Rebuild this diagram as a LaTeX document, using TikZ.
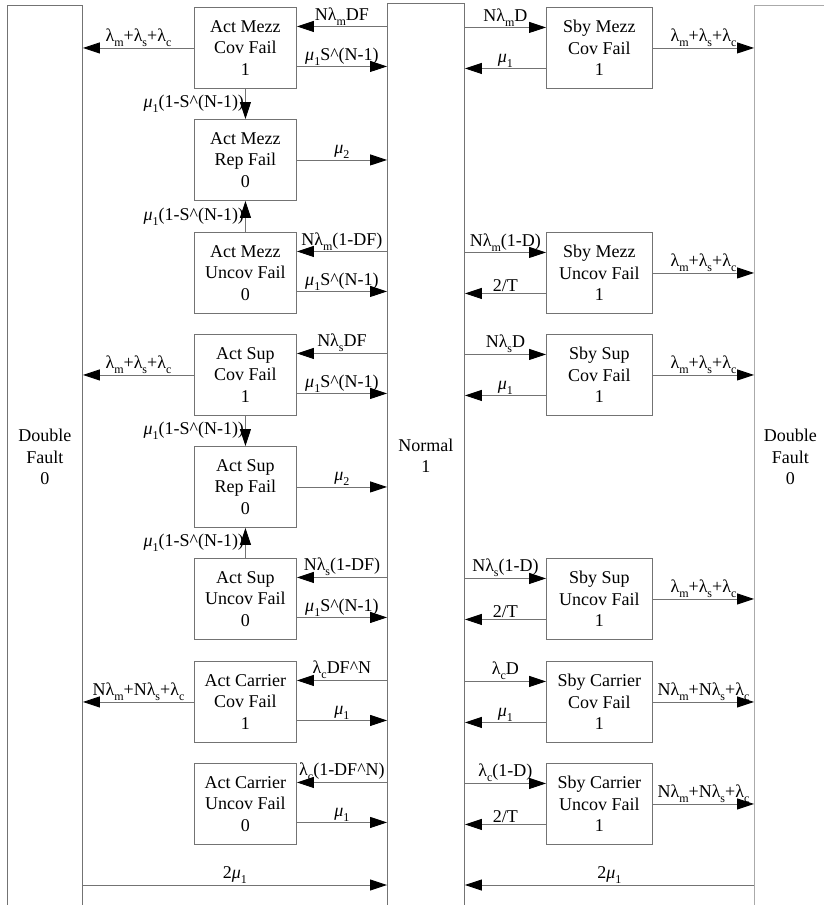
\documentclass[tikz,border=0pt]{standalone}
\usepackage{fontspec}
\setmainfont{Liberation Serif}
\usetikzlibrary{arrows.meta}
\definecolor{edge}{RGB}{115,115,115}
\definecolor{edgelight}{RGB}{170,170,170}
% lowered small index used after lambda and mu
\newcommand\lsub[1]{\raisebox{-5pt}{\fontsize{12}{12}\selectfont #1}}
\newcommand\lamb[1]{λ\lsub{#1}}
\newcommand\muone{\textit{μ}\lsub{1}}
\newcommand\mutwo{\textit{μ}\lsub{2}}
\newcommand\crt{\textasciicircum}
\begin{document}
\begin{tikzpicture}[x=1pt,y=-1pt,
  txt/.style={font=\fontsize{18}{21.5}\selectfont},
  actbox/.style={txt, draw=edge, line width=0.9pt, minimum width=102pt, minimum height=81pt,
    anchor=north west, align=center, inner sep=0pt},
  sbybox/.style={actbox, minimum width=106pt},
  column/.style={txt, draw=edge, line width=0.9pt, anchor=north west, align=center, inner sep=0pt},
  arr/.style={draw=edge, line width=0.9pt, -{Triangle[length=17pt,width=11pt,color=black]}},
  lbl/.style={txt, inner sep=1pt},
]
\useasboundingbox (0,0) rectangle (824,905);
\clip (0,0) rectangle (824,905);

% outer states
\node[column, minimum width=75pt, minimum height=903pt] (ldf) at (7,5) {Double\\Fault\\0};
\node[column, minimum width=77pt, minimum height=905pt] (normal) at (387,3) {Normal\\1};
\node[column, draw=edgelight, minimum width=72pt, minimum height=903pt] (rdf) at (754,5) {Double\\Fault\\0};

% active unit states
\node[actbox] (amc) at (194,7)   {Act Mezz\\Cov Fail\\1};
\node[actbox] (amr) at (194,119) {Act Mezz\\Rep Fail\\0};
\node[actbox] (amu) at (194,232) {Act Mezz\\Uncov Fail\\0};
\node[actbox] (asc) at (194,334) {Act Sup\\Cov Fail\\1};
\node[actbox] (asr) at (194,446) {Act Sup\\Rep Fail\\0};
\node[actbox] (asu) at (194,558) {Act Sup\\Uncov Fail\\0};
\node[actbox] (acc) at (194,661) {Act Carrier\\Cov Fail\\1};
\node[actbox] (acu) at (194,763) {Act Carrier\\Uncov Fail\\0};

% standby unit states
\node[sbybox] (smc) at (546,7)   {Sby Mezz\\Cov Fail\\1};
\node[sbybox] (smu) at (546,232) {Sby Mezz\\Uncov Fail\\1};
\node[sbybox] (ssc) at (546,334) {Sby Sup\\Cov Fail\\1};
\node[sbybox] (ssu) at (546,558) {Sby Sup\\Uncov Fail\\1};
\node[sbybox] (scc) at (546,661) {Sby Carrier\\Cov Fail\\1};
\node[sbybox] (scu) at (546,763) {Sby Carrier\\Uncov Fail\\1};

% Normal <-> active states
\draw[arr] ([yshift=21.5pt]normal.west |- amc.east) -- ([yshift=21.5pt]amc.east) node[lbl, midway, above] {N\lamb{m}DF};
\draw[arr] ([yshift=-18.5pt]amc.east) -- ([yshift=-18.5pt]normal.west |- amc.east) node[lbl, midway, above] {\muone S\crt(N-1)};
\draw[arr] (amr.east) -- (normal.west |- amr.east) node[lbl, midway, above] {\mutwo};
\draw[arr] ([yshift=21.5pt]normal.west |- amu.east) -- ([yshift=21.5pt]amu.east) node[lbl, midway, above] {N\lamb{m}(1-DF)};
\draw[arr] ([yshift=-18.5pt]amu.east) -- ([yshift=-18.5pt]normal.west |- amu.east) node[lbl, midway, above] {\muone S\crt(N-1)};
\draw[arr] ([yshift=21.5pt]normal.west |- asc.east) -- ([yshift=21.5pt]asc.east) node[lbl, midway, above] {N\lamb{s}DF};
\draw[arr] ([yshift=-18.5pt]asc.east) -- ([yshift=-18.5pt]normal.west |- asc.east) node[lbl, midway, above] {\muone S\crt(N-1)};
\draw[arr] (asr.east) -- (normal.west |- asr.east) node[lbl, midway, above] {\mutwo};
\draw[arr] ([yshift=21.5pt]normal.west |- asu.east) -- ([yshift=21.5pt]asu.east) node[lbl, midway, above] {N\lamb{s}(1-DF)};
\draw[arr] ([yshift=-18.5pt]asu.east) -- ([yshift=-18.5pt]normal.west |- asu.east) node[lbl, midway, above] {\muone S\crt(N-1)};
\draw[arr] ([yshift=21.5pt]normal.west |- acc.east) -- ([yshift=21.5pt]acc.east) node[lbl, midway, above] {\lamb{c}DF\crt N};
\draw[arr] ([yshift=-18.5pt]acc.east) -- ([yshift=-18.5pt]normal.west |- acc.east) node[lbl, midway, above] {\muone};
\draw[arr] ([yshift=21.5pt]normal.west |- acu.east) -- ([yshift=21.5pt]acu.east) node[lbl, midway, above] {\lamb{c}(1-DF\crt N)};
\draw[arr] ([yshift=-18.5pt]acu.east) -- ([yshift=-18.5pt]normal.west |- acu.east) node[lbl, midway, above] {\muone};

% covered -> repair transitions
\draw[arr] (amc.south) -- (amr.north) node[lbl, midway, left] {\muone(1-S\crt(N-1))};
\draw[arr] (amu.north) -- (amr.south) node[lbl, midway, left] {\muone(1-S\crt(N-1))};
\draw[arr] (asc.south) -- (asr.north) node[lbl, midway, left] {\muone(1-S\crt(N-1))};
\draw[arr] (asu.north) -- (asr.south) node[lbl, midway, left] {\muone(1-S\crt(N-1))};

% active states -> left double fault
\draw[arr] (amc.west) -- (ldf.east |- amc.west) node[lbl, midway, above] {\lamb{m}+\lamb{s}+\lamb{c}};
\draw[arr] (asc.west) -- (ldf.east |- asc.west) node[lbl, midway, above] {\lamb{m}+\lamb{s}+\lamb{c}};
\draw[arr] (acc.west) -- (ldf.east |- acc.west) node[lbl, midway, above] {N\lamb{m}+N\lamb{s}+\lamb{c}};

% Normal <-> standby states
\draw[arr] ([yshift=20.5pt]normal.east |- smc.west) -- ([yshift=20.5pt]smc.west) node[lbl, midway, above] {N\lamb{m}D};
\draw[arr] ([yshift=-20.5pt]smc.west) -- ([yshift=-20.5pt]normal.east |- smc.west) node[lbl, midway, above] {\muone};
\draw[arr] ([yshift=20.5pt]normal.east |- smu.west) -- ([yshift=20.5pt]smu.west) node[lbl, midway, above] {N\lamb{m}(1-D)};
\draw[arr] ([yshift=-20.5pt]smu.west) -- ([yshift=-20.5pt]normal.east |- smu.west) node[lbl, midway, above] {2/T};
\draw[arr] ([yshift=20.5pt]normal.east |- ssc.west) -- ([yshift=20.5pt]ssc.west) node[lbl, midway, above] {N\lamb{s}D};
\draw[arr] ([yshift=-20.5pt]ssc.west) -- ([yshift=-20.5pt]normal.east |- ssc.west) node[lbl, midway, above] {\muone};
\draw[arr] ([yshift=20.5pt]normal.east |- ssu.west) -- ([yshift=20.5pt]ssu.west) node[lbl, midway, above] {N\lamb{s}(1-D)};
\draw[arr] ([yshift=-20.5pt]ssu.west) -- ([yshift=-20.5pt]normal.east |- ssu.west) node[lbl, midway, above] {2/T};
\draw[arr] ([yshift=20.5pt]normal.east |- scc.west) -- ([yshift=20.5pt]scc.west) node[lbl, midway, above] {\lamb{c}D};
\draw[arr] ([yshift=-20.5pt]scc.west) -- ([yshift=-20.5pt]normal.east |- scc.west) node[lbl, midway, above] {\muone};
\draw[arr] ([yshift=20.5pt]normal.east |- scu.west) -- ([yshift=20.5pt]scu.west) node[lbl, midway, above] {\lamb{c}(1-D)};
\draw[arr] ([yshift=-20.5pt]scu.west) -- ([yshift=-20.5pt]normal.east |- scu.west) node[lbl, midway, above] {2/T};

% standby states -> right double fault
\draw[arr] (smc.east) -- (rdf.west |- smc.east) node[lbl, midway, above] {\lamb{m}+\lamb{s}+\lamb{c}};
\draw[arr] (smu.east) -- (rdf.west |- smu.east) node[lbl, midway, above] {\lamb{m}+\lamb{s}+\lamb{c}};
\draw[arr] (ssc.east) -- (rdf.west |- ssc.east) node[lbl, midway, above] {\lamb{m}+\lamb{s}+\lamb{c}};
\draw[arr] (ssu.east) -- (rdf.west |- ssu.east) node[lbl, midway, above] {\lamb{m}+\lamb{s}+\lamb{c}};
\draw[arr] (scc.east) -- (rdf.west |- scc.east) node[lbl, midway, above] {N\lamb{m}+N\lamb{s}+\lamb{c}};
\draw[arr] (scu.east) -- (rdf.west |- scu.east) node[lbl, midway, above] {N\lamb{m}+N\lamb{s}+\lamb{c}};

% double fault recovery
\coordinate (base) at (0,885);
\draw[arr] (base -| ldf.east) -- (base -| normal.west) node[lbl, midway, above] {2\muone};
\draw[arr] (base -| rdf.west) -- (base -| normal.east) node[lbl, midway, above] {2\muone};
\end{tikzpicture}
\end{document}
